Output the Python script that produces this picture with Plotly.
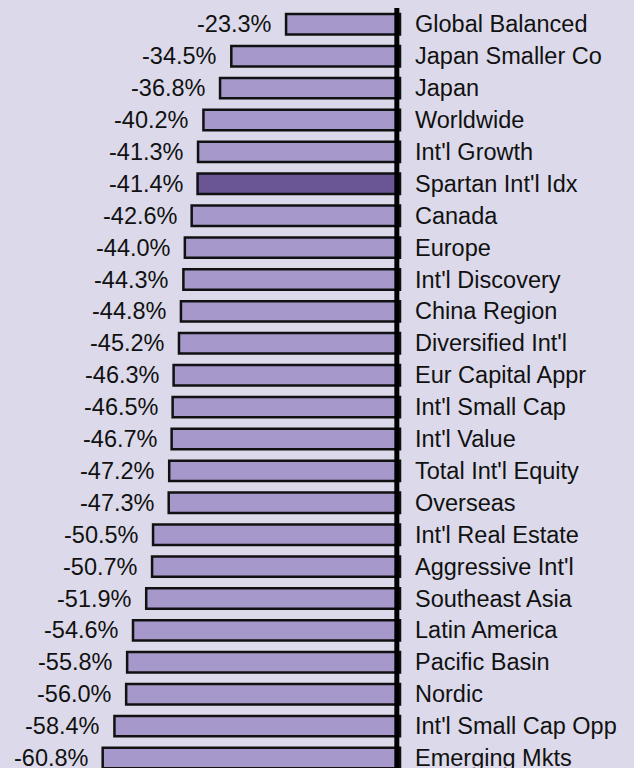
import plotly.graph_objects as go

funds = ["Global Balanced", "Japan Smaller Co", "Japan", "Worldwide", "Int'l Growth",
         "Spartan Int'l Idx", "Canada", "Europe", "Int'l Discovery", "China Region",
         "Diversified Int'l", "Eur Capital Appr", "Int'l Small Cap", "Int'l Value",
         "Total Int'l Equity", "Overseas", "Int'l Real Estate", "Aggressive Int'l",
         "Southeast Asia", "Latin America", "Pacific Basin", "Nordic",
         "Int'l Small Cap Opp", "Emerging Mkts"]
returns = [-23.3, -34.5, -36.8, -40.2, -41.3, -41.4, -42.6, -44.0, -44.3, -44.8,
           -45.2, -46.3, -46.5, -46.7, -47.2, -47.3, -50.5, -50.7, -51.9, -54.6,
           -55.8, -56.0, -58.4, -60.8]
highlight = "Spartan Int'l Idx"

BG = "#dcdaea"
FILL = "#a698cb"
FILL_HI = "#6a5595"
FONT = "Liberation Sans, Arial, Helvetica, sans-serif"

idx = list(range(len(funds)))
colors = [FILL_HI if f == highlight else FILL for f in funds]

fig = go.Figure()
fig.add_trace(go.Bar(
    x=returns, y=idx, orientation="h",
    marker=dict(color=colors, line=dict(color="#111111", width=2.5)),
    hoverinfo="skip",
))

annotations = []
for i, (f, v) in enumerate(zip(funds, returns)):
    annotations.append(dict(x=v, y=i, text=f"{v:.1f}%", showarrow=False,
                            xanchor="right", yanchor="middle", xshift=-12,
                            font=dict(family=FONT, size=23.5, color="#111111")))
    annotations.append(dict(x=0, y=i, text=f, showarrow=False,
                            xanchor="left", yanchor="middle", xshift=13,
                            font=dict(family=FONT, size=23.5, color="#111111")))

fig.add_shape(type="line", x0=-0.65, x1=-0.65, y0=-0.51, y1=23.4,
              line=dict(color="#000000", width=5), layer="above")

fig.update_layout(
    width=634, height=768,
    margin=dict(l=0, r=0, t=0, b=0),
    paper_bgcolor=BG, plot_bgcolor=BG,
    bargap=0.36,
    showlegend=False,
    annotations=annotations,
    xaxis=dict(range=[-81.8, 47.85], visible=False, fixedrange=True),
    yaxis=dict(range=[23.313, -0.762], visible=False, fixedrange=True),
)

fig.write_html(
    "out.html",
    config={"displayModeBar": False},
    post_script="document.body.style.margin='0';document.body.style.overflow='hidden';"
                "document.body.style.background='" + BG + "';",
)
